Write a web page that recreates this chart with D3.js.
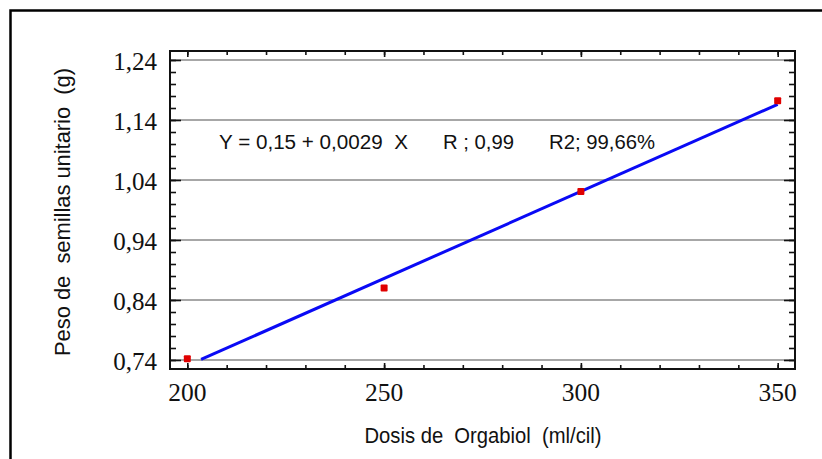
<!DOCTYPE html>
<html>
<head>
<meta charset="utf-8">
<script src="https://cdn.jsdelivr.net/npm/d3@7"></script>
<style>
  html, body { margin: 0; padding: 0; background: #fff; }
  svg { display: block; }
  text { white-space: pre; }
</style>
</head>
<body>
<svg id="chart" width="822" height="459"></svg>
<script>
// ---- data ----
const dosis = [200, 250, 300, 350];
const peso = [0.742, 0.860, 1.021, 1.172];
const fitX = [203.5, 350];
const fitY = [0.741, 1.166];
const xTicks = [200, 250, 300, 350];
const xMinorTicks = [200, 210, 220, 230, 240, 250, 260, 270, 280, 290, 300, 310, 320, 330, 340, 350];
const yTicks = [0.74, 0.84, 0.94, 1.04, 1.14, 1.24];
const yMinorTicks = [0.74,0.76,0.78,0.80,0.82,0.84,0.86,0.88,0.90,0.92,0.94,0.96,0.98,1.00,1.02,1.04,1.06,1.08,1.10,1.12,1.14,1.16,1.18,1.20,1.22,1.24];
const xTitle = "Dosis de  Orgabiol  (ml/cil)";
const yTitle = "Peso de  semillas unitario  (g)";
const eqParts = ["Y = 0,15 + 0,0029  X", "R ; 0,99", "R2; 99,66%"];

// ---- layout ----
const L = 170, R = 795, T = 51, B = 369;
const SERIF = '"Liberation Serif"';
const SANS = '"Liberation Sans"';
const svg = d3.select("#chart");
const locale = d3.formatLocale({decimal: ",", thousands: ".", grouping: [3], currency: ["", ""]});
const fmt = locale.format(".2f");

const x = d3.scaleLinear().domain([195.6, 354.4]).range([L, R]);
const y = d3.scaleLinear().domain([0.725, 1.255]).range([B, T]);

// outer frame
svg.append("rect").attr("x", 10.5).attr("y", 10.5).attr("width", 900).attr("height", 600)
  .attr("fill", "none").attr("stroke", "#000").attr("stroke-width", 2.5);

// gridlines
svg.append("g").selectAll("line").data(yTicks).join("line")
  .attr("x1", L).attr("x2", R).attr("y1", d => y(d)).attr("y2", d => y(d))
  .attr("stroke", "#8a8a8a").attr("stroke-width", 1.5);

const tickStyle = g => { g.select(".domain").remove(); g.selectAll("line").attr("stroke", "#111").attr("stroke-width", 1.6); g.selectAll("text").remove(); };

svg.append("g").attr("transform", `translate(${L},0)`)
  .call(d3.axisRight(y).tickValues(yMinorTicks).tickSize(6)).call(tickStyle);
svg.append("g").attr("transform", `translate(${L},0)`)
  .call(d3.axisRight(y).tickValues(yTicks).tickSize(11)).call(tickStyle);
svg.append("g").attr("transform", `translate(${R},0)`)
  .call(d3.axisLeft(y).tickValues(yMinorTicks).tickSize(6)).call(tickStyle);
svg.append("g").attr("transform", `translate(${R},0)`)
  .call(d3.axisLeft(y).tickValues(yTicks).tickSize(11)).call(tickStyle);

svg.append("g").attr("transform", `translate(0,${B})`)
  .call(d3.axisTop(x).tickValues(xMinorTicks).tickSize(4)).call(tickStyle);
svg.append("g").attr("transform", `translate(0,${B})`)
  .call(d3.axisTop(x).tickValues(xTicks).tickSize(6)).call(tickStyle);
svg.append("g").attr("transform", `translate(0,${T})`)
  .call(d3.axisBottom(x).tickValues(xMinorTicks).tickSize(4)).call(tickStyle);
svg.append("g").attr("transform", `translate(0,${T})`)
  .call(d3.axisBottom(x).tickValues(xTicks).tickSize(6)).call(tickStyle);

// plot frame
svg.append("rect").attr("x", L).attr("y", T).attr("width", R - L).attr("height", B - T)
  .attr("fill", "none").attr("stroke", "#111").attr("stroke-width", 2);

// tick labels
svg.append("g").selectAll("text").data(yTicks).join("text")
  .style("font-family", SERIF)
  .attr("x", L - 13).attr("y", d => y(d) + 10)
  .attr("text-anchor", "end")
  .attr("font-size", 25).attr("fill", "#111")
  .text(d => fmt(d));

svg.append("g").selectAll("text").data(xTicks).join("text")
  .style("font-family", SERIF)
  .attr("x", d => x(d)).attr("y", 401)
  .attr("text-anchor", "middle")
  .attr("font-size", 25.5).attr("fill", "#111")
  .text(d => d);

// axis titles
svg.append("text").style("font-family", SANS).attr("x", 483).attr("y", 443)
  .attr("text-anchor", "middle")
  .attr("font-size", 22).attr("fill", "#111")
  .attr("textLength", 237).attr("lengthAdjust", "spacingAndGlyphs")
  .text(xTitle);

svg.append("text").style("font-family", SANS)
  .attr("transform", `translate(70,212) rotate(-90)`)
  .attr("text-anchor", "middle")
  .attr("font-size", 22).attr("fill", "#111")
  .attr("textLength", 288).attr("lengthAdjust", "spacingAndGlyphs")
  .text(yTitle);

// equation text
const eqX = [219, 443, 549];
const eqW = [189, 71, 106];
svg.append("g").selectAll("text").data(eqParts).join("text")
  .style("font-family", SANS)
  .attr("x", (d, i) => eqX[i]).attr("y", 149)
  .attr("font-size", 20).attr("fill", "#111")
  .attr("textLength", (d, i) => eqW[i]).attr("lengthAdjust", "spacingAndGlyphs")
  .text(d => d);

// fitted line
svg.append("path")
  .datum(fitX.map((d, i) => [d, fitY[i]]))
  .attr("d", d3.line().x(d => x(d[0])).y(d => y(d[1])))
  .attr("fill", "none").attr("stroke", "#0a0af5").attr("stroke-width", 3);

// points
svg.append("g").selectAll("rect").data(dosis).join("rect")
  .attr("x", (d) => x(d) - 3.5).attr("y", (d, i) => y(peso[i]) - 3.5)
  .attr("width", 7).attr("height", 7).attr("rx", 1)
  .attr("fill", "#e00000");
</script>
</body>
</html>
